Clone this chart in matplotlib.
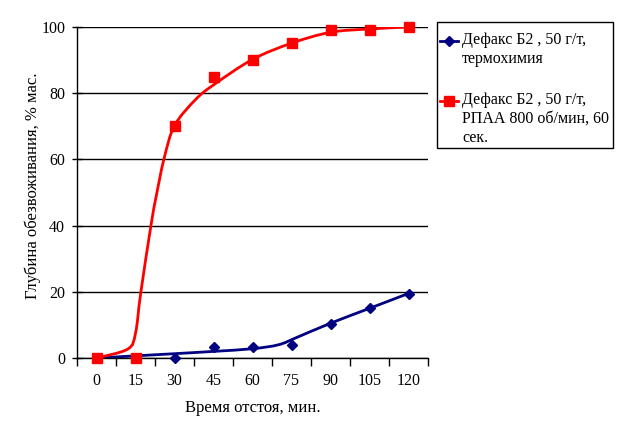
import numpy as np
import matplotlib
matplotlib.use("Agg")
import matplotlib.pyplot as plt
from matplotlib.path import Path
from matplotlib.patches import PathPatch, Rectangle
from matplotlib.lines import Line2D

plt.rcParams['font.family'] = ['Liberation Serif', 'DejaVu Serif']

# ---- data ----
time_min = [0, 15, 30, 45, 60, 75, 90, 105, 120]
x_labels = ['0', '15', '30', '45', '60', '75', '90', '105', '120']
blue_points = [0, 0, 0, 3.3, 3.2, 4.0, 10.3, 15.1, 19.4]
red_points = [0, 0, 70, 85, 90, 95.3, 99.1, 99.1, 100]

# smoothed trend curves
blue_curve_t = [0, 30, 45, 60, 70, 77, 90, 105, 120]
blue_curve_v = [0, 1.3, 2.0, 2.8, 4.0, 6.2, 10.5, 15.0, 19.5]
red_curve_t = [0, 12, 15, 17, 21, 23, 26, 30, 38, 45, 60, 75, 90, 105, 120]
red_curve_v = [0, 2.7, 7.5, 19.6, 40.3, 49, 60.3, 70.2, 78, 82.5, 90.2, 95.1, 98.4, 99.4, 100]

label_blue = 'Дефакс Б2 , 50 г/т,\nтермохимия'
label_red = 'Дефакс Б2 , 50 г/т,\nРПАА 800 об/мин, 60\nсек.'
xlabel = 'Время отстоя, мин.'
ylabel = 'Глубина обезвоживания, % мас.'

BLUE = '#000080'
RED = '#FF0000'


def smooth_path(xs, ys, sx=1.0, sy=1.0):
    xs = np.asarray(xs, float)
    ys = np.asarray(ys, float)
    pts = np.column_stack([xs * sx, ys * sy])
    n = len(pts)
    verts = [pts[0]]
    codes = [Path.MOVETO]
    for i in range(n - 1):
        p0 = pts[i - 1] if i > 0 else pts[i]
        p1 = pts[i]
        p2 = pts[i + 1]
        p3 = pts[i + 2] if i + 2 < n else pts[i + 1]
        c1 = p1 + (p2 - p0) / 6.0
        c2 = p2 - (p3 - p1) / 6.0
        verts += [c1, c2, p2]
        codes += [Path.CURVE4] * 3
    v = np.array(verts)
    v[:, 0] /= sx
    v[:, 1] /= sy
    return Path(v, codes)


fig = plt.figure(figsize=(6.19, 4.30), dpi=100)
W, H = 619, 430
L, R, T, B = 77, 428, 27, 358
ax = fig.add_axes([L / W, (H - B) / H, (R - L) / W, (B - T) / H])

ax.set_xlim(-7.5, 127.5)
ax.set_ylim(0, 100)

# curves
sx, sy = 39.2 / 15.0, 3.31
ax.add_patch(PathPatch(smooth_path(blue_curve_t, blue_curve_v, sx, sy), fill=False,
                       edgecolor=BLUE, lw=2.0, zorder=3))
ax.add_patch(PathPatch(smooth_path(red_curve_t, red_curve_v, sx, sy), fill=False,
                       edgecolor=RED, lw=2.0, zorder=3))

ax.plot(time_min, blue_points, linestyle='none', marker='D', ms=5.5,
        color=BLUE, zorder=4, clip_on=False)
ax.plot(time_min, red_points, linestyle='none', marker='s', ms=6.5,
        color=RED, zorder=5, clip_on=False)

# grid
ax.set_yticks([0, 20, 40, 60, 80, 100])
ax.yaxis.grid(True, color='black', lw=1.0)
ax.set_axisbelow(True)
ax.set_xticks(time_min)
ax.set_xticklabels(x_labels)
ax.set_xticks(np.arange(-7.5, 128, 15), minor=True)
ax.tick_params(axis='x', which='major', length=0, pad=11, labelsize=11.5)
ax.tick_params(axis='x', which='minor', length=6, direction='out', width=1)
ax.tick_params(axis='y', which='major', length=7, direction='inout', width=1, labelsize=11.5, pad=5)

for s in ['top', 'right']:
    ax.spines[s].set_visible(False)
for s in ['left', 'bottom']:
    ax.spines[s].set_linewidth(1.0)
    ax.spines[s].set_color('black')

ax.set_xlabel(xlabel, fontsize=12, labelpad=8)
ax.set_ylabel(ylabel, fontsize=12, va='center')
ax.yaxis.set_label_coords((33 - L) / (R - L), (B - 186) / (B - T))

# legend drawn manually
def fx(px):
    return px / W

def fy(py):
    return 1 - py / H

fig.patches.append(Rectangle((fx(437), fy(148)), fx(613) - fx(437), fy(22) - fy(148),
                             transform=fig.transFigure, fill=False, edgecolor='black', lw=1.0))
fig.lines.append(Line2D([fx(440), fx(458)], [fy(41), fy(41)], transform=fig.transFigure,
                        color=BLUE, lw=2))
fig.lines.append(Line2D([fx(449)], [fy(41)], transform=fig.transFigure,
                        color=BLUE, marker='D', ms=5.5, linestyle='none'))
fig.lines.append(Line2D([fx(440), fx(458)], [fy(101), fy(101)], transform=fig.transFigure,
                        color=RED, lw=2))
fig.lines.append(Line2D([fx(449)], [fy(101)], transform=fig.transFigure,
                        color=RED, marker='s', ms=6.5, linestyle='none'))
fig.text(fx(462), fy(32), label_blue, ha='left', va='top', fontsize=11.5,
         linespacing=1.25, transform=fig.transFigure)
fig.text(fx(462), fy(92), label_red, ha='left', va='top', fontsize=11.5,
         linespacing=1.25, transform=fig.transFigure)

fig.savefig('out.png', dpi=100)
